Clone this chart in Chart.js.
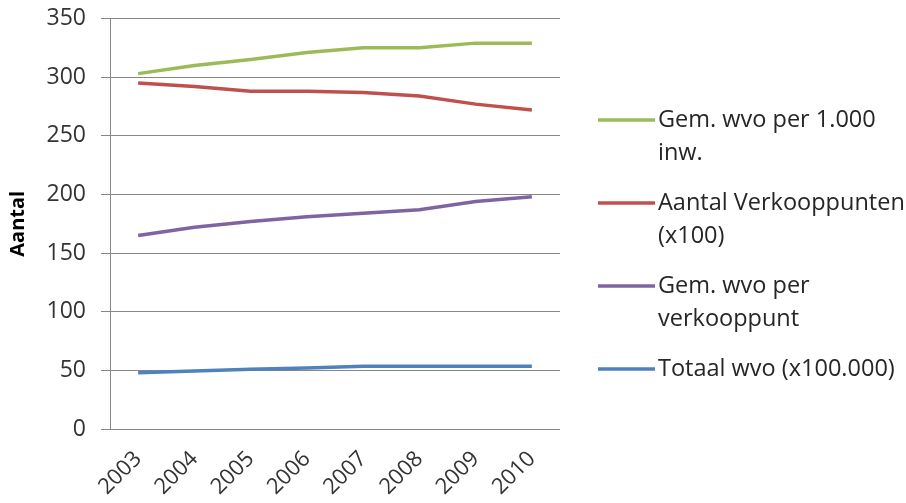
<!DOCTYPE html>
<html>
<head>
<meta charset="utf-8">
<script src="https://cdn.jsdelivr.net/npm/chart.js@4/dist/chart.umd.min.js"></script>
<style>
  html, body { margin: 0; padding: 0; background: #fff; }
  #wrap { width: 906px; height: 503px; position: relative; }
</style>
</head>
<body>
<div id="wrap"><canvas id="c" width="906" height="503"></canvas></div>
<script>
// Years on the horizontal axis
const years = ['2003', '2004', '2005', '2006', '2007', '2008', '2009', '2010'];

// Series values
const gemPer1000 = [303, 310, 315, 321, 325, 325, 329, 329];
const verkooppunten = [295, 292, 288, 288, 287, 284, 277, 272];
const gemPerVerkooppunt = [165, 172, 177, 181, 184, 187, 194, 198];
const totaalWvo = [48, 49.5, 51, 52, 53.5, 53.5, 53.5, 53.5];

// Legend texts (one entry per line)
const seriesLabels = [
  ['Gem. wvo per 1.000', 'inw.'],
  ['Aantal Verkooppunten', '(x100)'],
  ['Gem. wvo per', 'verkooppunt'],
  ['Totaal wvo (x100.000)']
];

// Vertical axis
const yMin = 0, yMax = 350, yStep = 50;
const yTitle = 'Aantal';

const seriesColors = ['#9BBB59', '#C0504D', '#8064A2', '#4F81BD'];
const seriesData = [gemPer1000, verkooppunten, gemPerVerkooppunt, totaalWvo];

const FONT = "'Open Sans', 'DejaVu Sans', sans-serif";
const GRID = '#878787';

// Legend on the right with wrapped labels
const sideLegend = {
  id: 'sideLegend',
  afterDraw(chart, args, opts) {
    const ctx = chart.ctx;
    ctx.save();
    ctx.font = opts.fontSize + 'px ' + FONT;
    ctx.textBaseline = 'middle';
    ctx.textAlign = 'left';
    let y = opts.top;
    chart.data.datasets.forEach((ds) => {
      const lines = Array.isArray(ds.label) ? ds.label : [ds.label];
      ctx.strokeStyle = ds.borderColor;
      ctx.lineWidth = ds.borderWidth;
      ctx.lineCap = 'butt';
      ctx.beginPath();
      ctx.moveTo(opts.lineStart, y);
      ctx.lineTo(opts.lineEnd, y);
      ctx.stroke();
      ctx.fillStyle = opts.color;
      lines.forEach((ln, i) => {
        ctx.fillText(ln, opts.textX, y + i * opts.lineHeight);
      });
      y += (lines.length - 1) * opts.lineHeight + opts.itemGap;
    });
    ctx.restore();
  }
};

new Chart(document.getElementById('c'), {
  type: 'line',
  data: {
    labels: years,
    datasets: seriesData.map((d, i) => ({
      label: seriesLabels[i],
      data: d,
      borderColor: seriesColors[i],
      backgroundColor: seriesColors[i],
      borderWidth: 3.5,
      pointRadius: 0,
      tension: 0,
      fill: false
    }))
  },
  options: {
    responsive: false,
    animation: false,
    events: [],
    layout: { padding: { top: 18.5, right: 346, bottom: 0, left: 0 } },
    plugins: {
      legend: { display: false },
      tooltip: { enabled: false },
      sideLegend: {
        top: 120, lineHeight: 33, itemGap: 50,
        lineStart: 598, lineEnd: 655, textX: 658,
        fontSize: 23.5, color: '#262626'
      }
    },
    scales: {
      x: {
        type: 'category',
        offset: true,
        grid: { display: false, drawTicks: false },
        border: { display: false },
        ticks: {
          minRotation: 45, maxRotation: 45,
          padding: 17,
          color: '#333',
          font: { family: FONT, size: 22 }
        },
        afterFit(scale) { scale.height = 74; }
      },
      y: {
        min: yMin, max: yMax,
        ticks: {
          stepSize: yStep,
          padding: 15,
          color: '#333',
          font: { family: FONT, size: 23 }
        },
        grid: { color: GRID, lineWidth: 1, tickLength: 9, drawTicks: true },
        border: { display: true, color: GRID, width: 1 },
        title: {
          display: true,
          text: yTitle,
          color: '#000',
          font: { family: FONT, size: 20, weight: 'bold' },
          padding: { top: 6, bottom: 0 }
        },
        afterFit(scale) {
          scale.width = 110;
          scale.paddingTop = 0;
          scale.paddingBottom = 0;
        }
      }
    }
  },
  plugins: [sideLegend]
});
</script>
</body>
</html>
